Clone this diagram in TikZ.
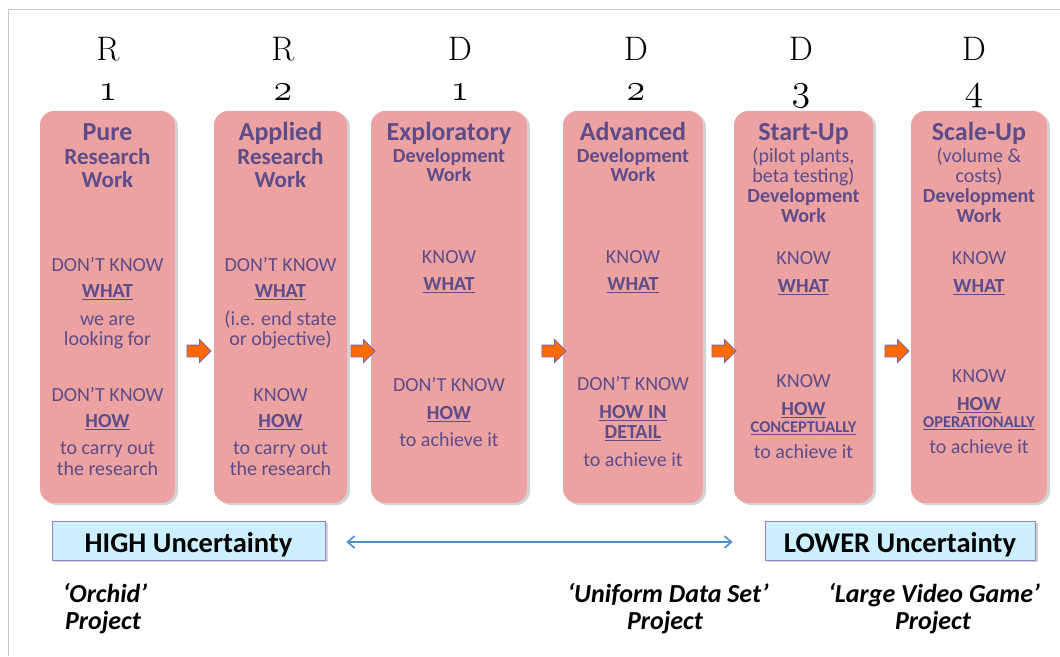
\RequirePackage{fix-cm}
\documentclass[tikz,border=0pt]{standalone}
\usepackage{fontspec}
\setsansfont{Carlito}
\usetikzlibrary{shapes.arrows, shadows, arrows.meta}

\definecolor{boxpink}{RGB}{235,162,160}
\definecolor{inkpurple}{RGB}{94,76,138}
\definecolor{arroworange}{RGB}{255,106,0}
\definecolor{arrowedge}{RGB}{125,100,170}
\definecolor{paleblue}{RGB}{204,240,255}
\definecolor{paleedge}{RGB}{150,130,200}
\definecolor{linkblue}{RGB}{74,142,204}
\definecolor{framegray}{RGB}{200,200,200}

% underline with a thicker rule than \underline
\newcommand\keyline[1]{\setbox0\hbox{#1}\leavevmode\rlap{\rule[-2.8pt]{\wd0}{1.2pt}}\box0}

\begin{document}
\begin{tikzpicture}[
            x = 1pt, y = -1pt,
            stage/.style = {
                fill = boxpink,
                rounded corners = 14pt,
                minimum height = 392pt,
                drop shadow = {shadow xshift=3pt, shadow yshift=-2pt, opacity=0.35}
            },
            head/.style = {font=\fontsize{34}{34}\selectfont, anchor=base},
            stagenum/.style = {font={\fontsize{38}{38}\usefont{OML}{cmm}{m}{it}}, anchor=base},
            title/.style = {text=inkpurple, anchor=base, font=\sffamily\bfseries\fontsize{26}{26}\selectfont},
            subtitle/.style = {text=inkpurple, anchor=base, font=\sffamily\bfseries\fontsize{23}{23}\selectfont},
            devline/.style = {text=inkpurple, anchor=base, font=\sffamily\bfseries\fontsize{20}{20}\selectfont},
            body/.style = {text=inkpurple, anchor=base, font=\sffamily\fontsize{20}{20}\selectfont},
            keyword/.style = {text=inkpurple, anchor=base, font=\sffamily\bfseries\fontsize{20}{20}\selectfont},
            smallkey/.style = {text=inkpurple, anchor=base, font=\sffamily\bfseries\fontsize{16.5}{16.5}\selectfont},
            nextstep/.style = {
                single arrow, draw = arrowedge, fill = arroworange,
                line width = 0.8pt, inner xsep = 0pt, inner ysep = 5.5pt,
                minimum height = 24pt,
                single arrow head extend = 5.5pt
            },
            level/.style = {
                draw = paleedge, fill = paleblue, line width = 0.8pt,
                minimum height = 39pt, text height = 23pt, text depth = 0pt,
                font = \sffamily\bfseries\fontsize{28.5}{28.5}\selectfont,
                drop shadow = {shadow xshift=3pt, shadow yshift=-2pt, opacity=0.35}
            },
            project/.style = {anchor=base, font=\sffamily\bfseries\itshape\fontsize{26}{26}\selectfont},
            uncertain/.style = {{Straight Barb[length=7pt, width=12pt]}-{Straight Barb[length=7pt, width=12pt]}, linkblue, line width=1.6pt}
        ]
        \useasboundingbox (0,0) rectangle (1060,656);

        % frame
        \draw[framegray, line width=1pt] (8,656) -- (8,9) -- (1060,9);

        % stage boxes
        \node[stage, minimum width=135pt] (r1) at (107.5,307) {};
        \node[stage, minimum width=133pt] (r2) at (280.5,307) {};
        \node[stage, minimum width=156pt] (d1) at (449,307) {};
        \node[stage, minimum width=140pt] (d2) at (633,307) {};
        \node[stage, minimum width=139pt] (d3) at (803.5,307) {};
        \node[stage, minimum width=136pt] (d4) at (979,307) {};

        % headings
        \node[head] (hr1) at (108,60) {R};
        \node[stagenum] (nr1) at (108,100) {1};
        \node[head] (hr2) at (283,60) {R};
        \node[stagenum] (nr2) at (283,100) {2};
        \node[head] (hd1) at (460,60) {D};
        \node[stagenum] (nd1) at (460,100) {1};
        \node[head] (hd2) at (636,60) {D};
        \node[stagenum] (nd2) at (636,100) {2};
        \node[head] (hd3) at (801,60) {D};
        \node[stagenum] (nd3) at (801,100) {3};
        \node[head] (hd4) at (974,60) {D};
        \node[stagenum] (nd4) at (974,100) {4};

        % R1
        \node[title] (r1a) at (r1 |- 0,140) {Pure};
        \node[subtitle] (r1b) at (r1 |- 0,164) {Research};
        \node[subtitle] (r1c) at (r1 |- 0,187) {Work};
        \node[body] (r1d) at (r1 |- 0,271) {DON’T KNOW};
        \node[keyword] (r1e) at (r1 |- 0,297) {\keyline{WHAT}};
        \node[body] (r1f) at (r1 |- 0,325) {we are};
        \node[body] (r1g) at (r1 |- 0,345) {looking for};
        \node[body] (r1h) at (r1 |- 0,401) {DON’T KNOW};
        \node[keyword] (r1i) at (r1 |- 0,427) {\keyline{HOW}};
        \node[body] (r1j) at (r1 |- 0,454) {to carry out};
        \node[body] (r1k) at (r1 |- 0,475) {the research};

        % R2
        \node[title] (r2a) at (r2 |- 0,140) {Applied};
        \node[subtitle] (r2b) at (r2 |- 0,164) {Research};
        \node[subtitle] (r2c) at (r2 |- 0,187) {Work};
        \node[body] (r2d) at (r2 |- 0,271) {DON’T KNOW};
        \node[keyword] (r2e) at (r2 |- 0,297) {\keyline{WHAT}};
        \node[body] (r2f) at (r2 |- 0,325) {(i.e. end state};
        \node[body] (r2g) at (r2 |- 0,345) {or objective)};
        \node[body] (r2h) at (r2 |- 0,401) {KNOW};
        \node[keyword] (r2i) at (r2 |- 0,427) {\keyline{HOW}};
        \node[body] (r2j) at (r2 |- 0,454) {to carry out};
        \node[body] (r2k) at (r2 |- 0,475) {the research};

        % D1
        \node[title] (d1a) at (d1 |- 0,140) {Exploratory};
        \node[devline] (d1b) at (d1 |- 0,162) {Development};
        \node[devline] (d1c) at (d1 |- 0,181) {Work};
        \node[body] (d1d) at (d1 |- 0,263) {KNOW};
        \node[keyword] (d1e) at (d1 |- 0,290) {\keyline{WHAT}};
        \node[body] (d1f) at (d1 |- 0,391) {DON’T KNOW};
        \node[keyword] (d1g) at (d1 |- 0,419) {\keyline{HOW}};
        \node[body] (d1h) at (d1 |- 0,446) {to achieve it};

        % D2
        \node[title] (d2a) at (d2 |- 0,140) {Advanced};
        \node[devline] (d2b) at (d2 |- 0,162) {Development};
        \node[devline] (d2c) at (d2 |- 0,181) {Work};
        \node[body] (d2d) at (d2 |- 0,263) {KNOW};
        \node[keyword] (d2e) at (d2 |- 0,290) {\keyline{WHAT}};
        \node[body] (d2f) at (d2 |- 0,390) {DON’T KNOW};
        \node[keyword] (d2g) at (d2 |- 0,418) {\keyline{HOW IN}};
        \node[keyword] (d2h) at (d2 |- 0,438) {\keyline{DETAIL}};
        \node[body] (d2i) at (d2 |- 0,466) {to achieve it};

        % D3
        \node[title] (d3a) at (d3 |- 0,140) {Start-Up};
        \node[body] (d3b) at (d3 |- 0,162) {(pilot plants,};
        \node[body] (d3c) at (d3 |- 0,182) {beta testing)};
        \node[devline] (d3d) at (d3 |- 0,202) {Development};
        \node[devline] (d3e) at (d3 |- 0,222) {Work};
        \node[body] (d3f) at (d3 |- 0,264) {KNOW};
        \node[keyword] (d3g) at (d3 |- 0,292) {\keyline{WHAT}};
        \node[body] (d3h) at (d3 |- 0,387) {KNOW};
        \node[keyword] (d3i) at (d3 |- 0,415) {\keyline{HOW}};
        \node[smallkey] (d3j) at (d3 |- 0,432) {\keyline{CONCEPTUALLY}};
        \node[body] (d3k) at (d3 |- 0,458) {to achieve it};

        % D4
        \node[title] (d4a) at (d4 |- 0,140) {Scale-Up};
        \node[body] (d4b) at (d4 |- 0,162) {(volume \&};
        \node[body] (d4c) at (d4 |- 0,182) {costs)};
        \node[devline] (d4d) at (d4 |- 0,202) {Development};
        \node[devline] (d4e) at (d4 |- 0,222) {Work};
        \node[body] (d4f) at (d4 |- 0,264) {KNOW};
        \node[keyword] (d4g) at (d4 |- 0,292) {\keyline{WHAT}};
        \node[body] (d4h) at (d4 |- 0,382) {KNOW};
        \node[keyword] (d4i) at (d4 |- 0,410) {\keyline{HOW}};
        \node[smallkey] (d4j) at (d4 |- 0,427) {\keyline{OPERATIONALLY}};
        \node[body] (d4k) at (d4 |- 0,453) {to achieve it};

        % orange step arrows
        \node[nextstep] (s1) at (196,351) {};
        \node[nextstep] (s2) at (360,351) {};
        \node[nextstep] (s3) at (551,351) {};
        \node[nextstep] (s4) at (721,351) {};
        \node[nextstep] (s5) at (894,351) {};

        % uncertainty scale
        \node[level, minimum width=273pt] (high) at (188.5,540.5) {HIGH Uncertainty};
        \node[level, minimum width=270pt] (low) at (900,540.5) {LOWER Uncertainty};
        \draw[uncertain] ([xshift=21pt, yshift=-1.5pt]high.east) -- ([xshift=-32pt, yshift=-1.5pt]low.west);

        % example projects
        \node[project] (p1a) at (105,602) {‘Orchid’};
        \node[project] (p1b) at (103,629) {Project};
        \node[project] (p2a) at (668,602) {‘Uniform Data Set’};
        \node[project] (p2b) at (665,629) {Project};
        \node[project] (p3a) at (934,602) {‘Large Video Game’};
        \node[project] (p3b) at (933,629) {Project};
    \end{tikzpicture}
\end{document}
